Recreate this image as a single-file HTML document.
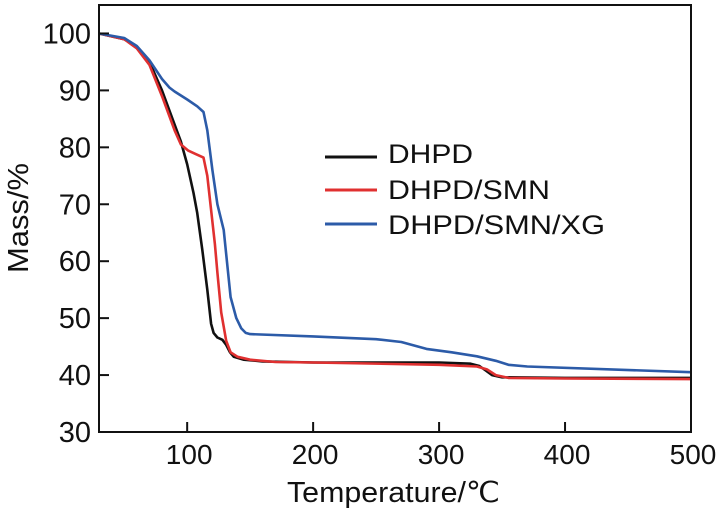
<!DOCTYPE html>
<html><head><meta charset="utf-8"><style>
body{margin:0;background:#fff;}
svg{display:block;font-family:"Liberation Sans",Arial,sans-serif;}
</style></head><body>
<svg id="chart" width="717" height="513" xmlns="http://www.w3.org/2000/svg"></svg>
<script>
const xTicks=[100,200,300,400,500];
const yTicks=[30,40,50,60,70,80,90,100];
const seriesNames=["DHPD","DHPD/SMN","DHPD/SMN/XG"];
const seriesColors=["#111111","#e03030","#2c5ba8"];
const blackT=[30,50,60,70,80,90,95,100,105,108,112,116,119,121,124,128,131,134,137,145,160,200,300,325,332,337,342,350,400,500];
const blackM=[100,99,97.6,95,90,84,81,77,72,68.5,62,55,49,47.4,46.6,46.2,45.3,44,43.2,42.7,42.4,42.2,42.2,42,41.6,40.8,40,39.6,39.5,39.5];
const redT=[30,50,60,70,80,90,95,101,107,113,116,119,122,124,127,131,134.5,140,150,170,200,300,330,338,345,355,400,500];
const redM=[100,99,97.4,94.5,89,83,80.5,79.4,78.8,78.2,75,69,63,58,51,46,44,43.2,42.7,42.3,42.2,41.8,41.5,41,40,39.5,39.4,39.3];
const blueT=[30,50,60,70,80,86,90,100,108,113,116,120,124,129,134.5,139,143,146.5,150,200,250,270,290,310,330,345,355,370,500];
const blueM=[100,99.2,97.8,95.3,92,90.5,89.8,88.4,87.2,86.2,83,76,70,65.5,53.7,50,48.2,47.4,47.2,46.8,46.3,45.8,44.6,44,43.3,42.5,41.8,41.5,40.5];
const seriesT=[blackT,redT,blueT];
const seriesM=[blackM,redM,blueM];

const X0=99,X1=691,Y0=432,Y1=5;
const xMin=30,xMax=500,yMin=30,yMax=105;
const sx=v=>X0+(v-xMin)/(xMax-xMin)*(X1-X0);
const sy=v=>Y0-(v-yMin)/(yMax-yMin)*(Y0-Y1);
const svg=document.getElementById('chart');
const NS="http://www.w3.org/2000/svg";
function mk(tag,attrs,parent){const e=document.createElementNS(NS,tag);for(const k in attrs)e.setAttribute(k,attrs[k]);(parent||svg).appendChild(e);return e;}

seriesT.forEach((T,i)=>{
  const d=T.map((t,j)=>(j?'L':'M')+sx(t).toFixed(1)+','+sy(seriesM[i][j]).toFixed(1)).join(' ');
  const p=mk('path',{d:d,fill:'none',stroke:seriesColors[i],'stroke-width':2.6,'stroke-linejoin':'round'});
  
  
});

const fr=mk('rect',{x:X0,y:Y1,width:X1-X0,height:Y0-Y1,fill:'none',stroke:'#111','stroke-width':2});



xTicks.forEach(v=>{
  const t=mk('line',{x1:sx(v),x2:sx(v),y1:Y0,y2:Y0-10,stroke:'#111','stroke-width':2});
  
  
  const l=mk('text',{x:sx(v)+2,y:Y0+32,'text-anchor':'middle','font-size':28,fill:'#111'});
  l.textContent=v;
  
  
});
yTicks.forEach(v=>{
  const t=mk('line',{x1:X0,x2:X0+10,y1:sy(v),y2:sy(v),stroke:'#111','stroke-width':2});
  
  
  const l=mk('text',{x:X0-8,y:sy(v)+10,'text-anchor':'end','font-size':29,fill:'#111'});
  l.textContent=v;
  
  
});

const xt=mk('text',{x:287,y:502,'font-size':29,fill:'#111',textLength:213,lengthAdjust:'spacingAndGlyphs'});
xt.textContent='Temperature/℃';


const yt=mk('text',{x:0,y:0,'text-anchor':'middle','font-size':29,fill:'#111',textLength:110,lengthAdjust:'spacingAndGlyphs',transform:'translate(28,218) rotate(-90)'});
yt.textContent='Mass/%';



const legY=[157,190,224];
const legBase=[163,199,234];
const legW=[85,162,217];
seriesNames.forEach((n,i)=>{
  const g=mk('g',{});
  
  
  mk('line',{x1:325,x2:377,y1:legY[i],y2:legY[i],stroke:seriesColors[i],'stroke-width':3},g);
  const t=mk('text',{x:388,y:legBase[i],'font-size':27,fill:'#111',textLength:legW[i],lengthAdjust:'spacingAndGlyphs'},g);
  t.textContent=n;
});
</script>
</body></html>
